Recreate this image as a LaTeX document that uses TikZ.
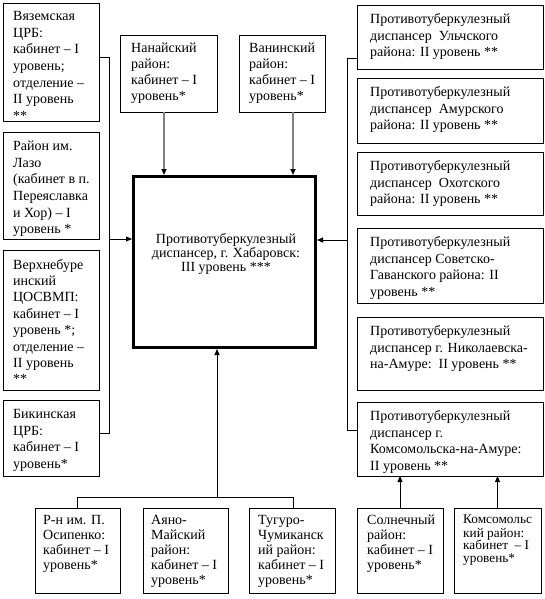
\documentclass[tikz,border=0pt]{standalone}
\usepackage{fontspec}
\setmainfont{Liberation Serif}
\usetikzlibrary{arrows.meta}
\begin{document}
\begin{tikzpicture}[x=1pt,y=-1pt,
  bx/.style={draw,line width=0.9pt,anchor=north west,inner sep=0pt,outer sep=0pt},
  tx/.style={anchor=north west,inner sep=0pt,align=left,font=\fontsize{14}{16.7}\selectfont},
  txb/.style={tx,font=\fontsize{14}{15}\selectfont},
  ln/.style={line width=0.9pt},
  arr/.style={line width=0.9pt,-{Triangle[width=5pt,length=6pt]}},
  garr/.style={line width=1.5pt,draw=gray,-{Triangle[width=5pt,length=6pt,color=black]}}]
\useasboundingbox (0,0) rectangle (545,599);
% left column
\node[bx,minimum width=96,minimum height=118] (L1) at (3,3) {};
\node[tx] (L1t) at (13,8.5) {\strut Вяземская\\ЦРБ:\\кабинет – I\\уровень;\\отделение –\\II уровень\\**};
\node[bx,minimum width=96,minimum height=107] (L2) at (3,132) {};
\node[tx] (L2t) at (13,138.5) {\strut Район им.\\Лазо\\(кабинет в п.\\Переяславка\\и Хор) – I\\уровень *};
\node[bx,minimum width=96,minimum height=140] (L3) at (3,250) {};
\node[tx,font=\fontsize{14}{16.4}\selectfont] (L3t) at (13,257.5) {\strut Верхнебуре\\инский\\ЦОСВМП:\\кабинет – I\\уровень *;\\отделение –\\II уровень\\**};
\node[bx,minimum width=96,minimum height=76] (L4) at (3,400) {};
\node[tx] (L4t) at (13,406.5) {\strut Бикинская\\ЦРБ:\\кабинет – I\\уровень*};
% top
\node[bx,minimum width=97,minimum height=77] (N) at (120,35) {};
\node[tx,font=\fontsize{14}{16}\selectfont] (Nt) at (131,41.5) {\strut Нанайский\\район:\\кабинет – I\\уровень*};
\node[bx,minimum width=86,minimum height=77] (V) at (239,35) {};
\node[tx,font=\fontsize{14}{16}\selectfont] (Vt) at (249,41.5) {\strut Ванинский\\район:\\кабинет – I\\уровень*};
% central
\node[draw,line width=3pt,anchor=north west,inner sep=0pt,minimum width=182,minimum height=171] (C) at (132,175) {};
\node[align=center,inner sep=0pt,font=\fontsize{14}{14}\selectfont] (Ct) at (226,254) {Противотуберкулезный\\диспансер, г. Хабаровск:\\III уровень ***};
% right column
\node[bx,minimum width=186,minimum height=64] (R1) at (357,5) {};
\node[tx] (R1t) at (370,11.5) {\strut Противотуберкулезный\\диспансер\ \ Ульчского\\района: II уровень **};
\node[bx,minimum width=186,minimum height=65] (R2) at (357,78) {};
\node[tx] (R2t) at (370,84.5) {\strut Противотуберкулезный\\диспансер\ \ Амурского\\района: II уровень **};
\node[bx,minimum width=186,minimum height=63] (R3) at (357,152) {};
\node[tx] (R3t) at (370,158.5) {\strut Противотуберкулезный\\диспансер\ \ Охотского\\района: II уровень **};
\node[bx,minimum width=186,minimum height=75] (R4) at (357,228) {};
\node[tx] (R4t) at (370,234.5) {\strut Противотуберкулезный\\диспансер Советско-\\Гаванского района: II\\уровень **};
\node[bx,minimum width=186,minimum height=73] (R5) at (357,317) {};
\node[tx] (R5t) at (370,323.5) {\strut Противотуберкулезный\\диспансер г. Николаевска-\\на-Амуре:\ \ II уровень **};
\node[bx,minimum width=186,minimum height=74] (R6) at (357,402) {};
\node[tx] (R6t) at (370,408.5) {\strut Противотуберкулезный\\диспансер г.\\Комсомольска-на-Амуре:\\II уровень **};
% bottom
\node[bx,minimum width=85,minimum height=85] (B1) at (35,508) {};
\node[txb] (B1t) at (43,514) {\strut Р-н им. П.\\Осипенко:\\кабинет – I\\уровень*};
\node[bx,minimum width=85,minimum height=85] (B2) at (143,508) {};
\node[txb] (B2t) at (151,514) {\strut Аяно-\\Майский\\район:\\кабинет – I\\уровень*};
\node[bx,minimum width=86,minimum height=85] (B3) at (249,508) {};
\node[txb] (B3t) at (258,514) {\strut Тугуро-\\Чумиканск\\ий район:\\кабинет – I\\уровень*};
\node[bx,minimum width=86,minimum height=85] (S) at (357,508) {};
\node[txb] (St) at (367,514) {\strut Солнечный\\район:\\кабинет – I\\уровень*};
\node[bx,minimum width=87,minimum height=85] (K) at (454,508) {};
\node[tx,font=\fontsize{13.3}{12.8}\selectfont] (Kt) at (463,514) {\strut Комсомольс\\кий район:\\кабинет\ \ – I\\уровень*};
% coordinates
\coordinate (lb1) at (109,57);
\coordinate (lb2) at (109,433);
\coordinate (lba) at (109,239);
\coordinate (rb1) at (347,58);
\coordinate (rb2) at (347,430);
\coordinate (rba) at (347,240);
\coordinate (ax1) at (164,0);
\coordinate (ax2) at (293,0);
\coordinate (bb) at (217,497);
\coordinate (bl) at (77,497);
\coordinate (br) at (293,497);
% connectors
\draw[ln] (L1.east |- lb1) -- (lb1) -- (lb2) -- (L4.east |- lb2);
\draw[arr] (lba) -- (C.west |- lba);
\draw[ln] (R1.west |- rb1) -- (rb1) -- (rb2) -- (R6.west |- rb2);
\draw[arr] (rba) -- (C.east |- rba);
\draw[garr] (N.south -| ax1) -- (C.north -| ax1);
\draw[garr] (V.south -| ax2) -- (C.north -| ax2);
\draw[ln] (B1.north -| bl) -- (bl) -- (br) -- (B3.north -| br);
\draw[arr] (bb) -- (C.south -| bb);
\draw[arr] (S.north) -- (R6.south -| S.north);
\draw[arr] (K.north) -- (R6.south -| K.north);
\end{tikzpicture}
\end{document}
